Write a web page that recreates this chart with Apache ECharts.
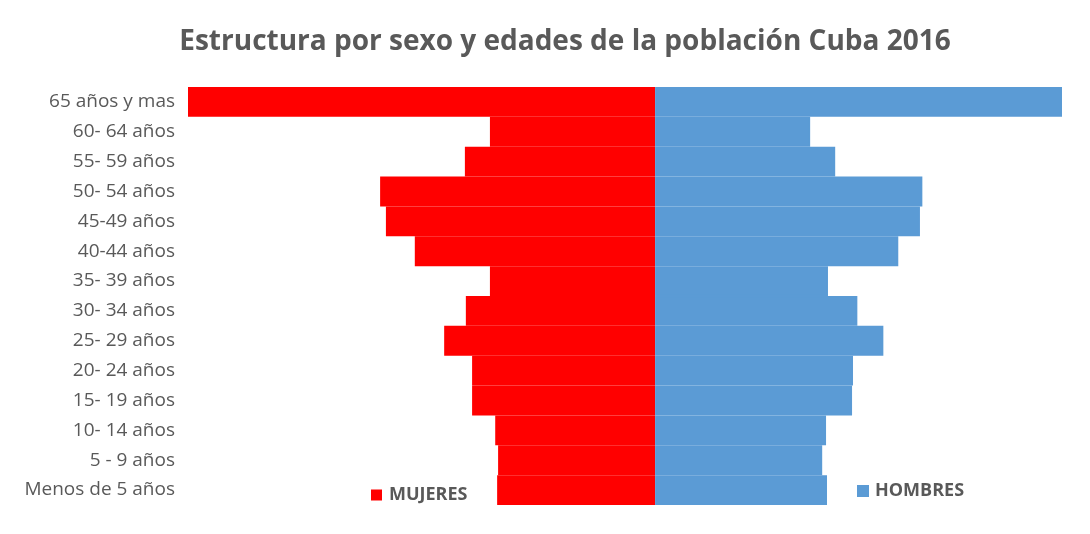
<!DOCTYPE html>
<html>
<head>
<meta charset="utf-8">
<script src="https://cdn.jsdelivr.net/npm/echarts@6/dist/echarts.min.js"></script>
<style>
  html, body { margin: 0; padding: 0; background: #fff; }
  #chart { width: 1090px; height: 534px; }
</style>
</head>
<body>
<div id="chart"></div>
<script>
// grupos de edad, de abajo hacia arriba
const categorias = ['Menos de 5 años', '5 - 9 años', '10- 14 años', '15- 19 años', '20- 24 años',
  '25- 29 años', '30- 34 años', '35- 39 años', '40-44 años', '45-49 años', '50- 54 años',
  '55- 59 años', '60- 64 años', '65 años y mas'];

// miles de personas (estimado)
const mujeres = [328, 326, 332, 380, 380, 438, 393, 343, 499, 559, 571, 395, 343, 970];
const hombres = [357, 347, 355, 409, 411, 474, 420, 359, 505, 550, 555, 374, 322, 845];

const gris = '#595959';
const fuente = '"Open Sans", "Liberation Sans", sans-serif';

const chart = echarts.init(document.getElementById('chart'));

const option = {
  backgroundColor: '#fff',
  animation: false,
  title: {
    text: 'Estructura por sexo y edades de la población Cuba 2016',
    left: 560,
    textAlign: 'center',
    top: 23,
    textStyle: { color: gris, fontFamily: fuente, fontWeight: 'bold', fontSize: 28 }
  },
  legend: [
    {
      data: ['MUJERES'],
      left: 371,
      top: 486,
      padding: 0,
      icon: 'rect',
      itemWidth: 9,
      itemHeight: 9,
      textStyle: { color: gris, fontFamily: fuente, fontWeight: 'bold', fontSize: 18, padding: [0, 0, 0, 3] }
    },
    {
      data: ['HOMBRES'],
      left: 857,
      top: 482,
      padding: 0,
      icon: 'rect',
      itemWidth: 10,
      itemHeight: 10,
      textStyle: { color: gris, fontFamily: fuente, fontWeight: 'bold', fontSize: 18, padding: [0, 0, 0, 2] }
    }
  ],
  grid: { left: 188, right: 28, top: 87, bottom: 29, containLabel: false },
  xAxis: {
    type: 'value',
    min: -Math.max(...mujeres),
    max: Math.max(...hombres),
    show: false
  },
  yAxis: {
    type: 'category',
    data: categorias,
    axisLine: { show: false },
    axisTick: { show: false },
    axisLabel: { color: gris, fontFamily: fuente, fontSize: 19, margin: 13 }
  },
  series: [
    {
      name: 'MUJERES',
      type: 'bar',
      stack: 'total',
      barCategoryGap: '0%',
      itemStyle: { color: '#ff0000', borderColor: '#ff0000', borderWidth: 1.5 },
      data: mujeres.map(v => -v)
    },
    {
      name: 'HOMBRES',
      type: 'bar',
      stack: 'total',
      barCategoryGap: '0%',
      itemStyle: { color: '#5b9bd5', borderColor: '#5b9bd5', borderWidth: 1.5 },
      data: hombres
    }
  ]
};

chart.setOption(option);
</script>
</body>
</html>
